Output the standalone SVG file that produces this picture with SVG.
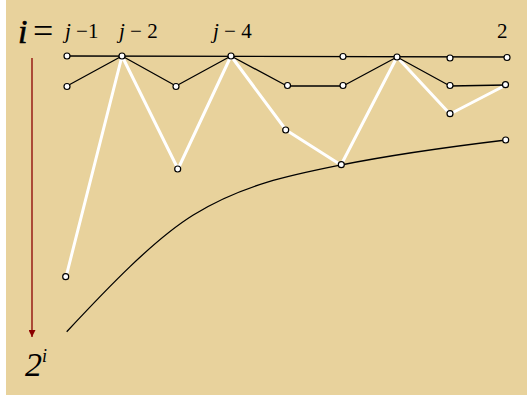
<svg xmlns="http://www.w3.org/2000/svg" width="527" height="400" viewBox="0 0 527 400">
<defs>
<style>
.bg{fill:#E8D29C}
.blk{fill:none;stroke:#000;stroke-width:1.3;stroke-linejoin:round}
.wht{fill:none;stroke:#fff;stroke-width:3;stroke-linejoin:round}
.nd{fill:#fff;stroke:#000;stroke-width:1.2}
.t{font-family:"Liberation Serif",serif;fill:#000}
.it{font-style:italic}
</style>
<marker id="ah" viewBox="0 0 10 10" refX="10" refY="5" markerWidth="7" markerHeight="7" markerUnits="userSpaceOnUse" orient="auto">
<path d="M0,0 L10,5 L0,10 z" fill="#8B0000"/>
</marker>
</defs>
<rect class="bg" x="6" y="0" width="521" height="395"/>
<g id="labels">
<text class="t it" x="18" y="43" font-size="34" stroke="#000" stroke-width="0.6">i</text>
<text class="t" x="33" y="43" font-size="36">=</text>
<text class="t" x="65" y="38" font-size="21"><tspan class="it">j</tspan> −1</text>
<text class="t" x="119" y="38" font-size="21"><tspan class="it">j</tspan> − 2</text>
<text class="t" x="213" y="38" font-size="21"><tspan class="it">j</tspan> − 4</text>
<text class="t" x="497" y="38" font-size="21">2</text>
<text class="t it" x="25" y="376" font-size="34">2<tspan font-size="18" dy="-14">i</tspan></text>
</g>
<g id="connectors">
<line x1="32" y1="58" x2="32" y2="337" stroke="#8B0000" stroke-width="1.3" marker-end="url(#ah)"/>
<path class="blk" d="M66.7,331.7 C106.7,288.9 153.3,239.8 193.3,215 C242.3,184.6 292,174.8 341,165 C396,154 451,146.6 506,140"/>
<path class="wht" d="M66,277 L122,56 L178,169 L231,56 L286,130 L341,165 L397,57 L450,114 L506,85"/>
<path class="blk" d="M67,86 L122,56 L176,86 L231,56 L287,86 L343,86 L397,57 L450,86 L506,85"/>
<path class="blk" stroke-width="1.5" d="M67,56 L507,57"/>
</g>
<g id="nodes">
<circle id="n1" class="nd" cx="67" cy="56" r="3"/>
<circle id="n2" class="nd" cx="122" cy="56" r="3"/>
<circle id="n3" class="nd" cx="231" cy="56" r="3"/>
<circle id="n4" class="nd" cx="343" cy="56.5" r="3"/>
<circle id="n5" class="nd" cx="397" cy="57" r="3"/>
<circle id="n6" class="nd" cx="450" cy="58" r="3"/>
<circle id="n7" class="nd" cx="507" cy="57.5" r="3"/>
<circle id="n8" class="nd" cx="67" cy="86.5" r="3"/>
<circle id="n9" class="nd" cx="176" cy="86.5" r="3"/>
<circle id="n10" class="nd" cx="287.5" cy="85.5" r="3"/>
<circle id="n11" class="nd" cx="343" cy="85.5" r="3"/>
<circle id="n12" class="nd" cx="450" cy="85.5" r="3"/>
<circle id="n13" class="nd" cx="505.5" cy="84.7" r="3"/>
<circle id="n14" class="nd" cx="65.7" cy="276.7" r="3"/>
<circle id="n15" class="nd" cx="177.7" cy="169" r="3"/>
<circle id="n16" class="nd" cx="285.7" cy="130" r="3"/>
<circle id="n17" class="nd" cx="341.3" cy="164.7" r="3"/>
<circle id="n18" class="nd" cx="450" cy="113.7" r="3"/>
<circle id="n19" class="nd" cx="505.7" cy="140" r="3"/>
</g>
</svg>
